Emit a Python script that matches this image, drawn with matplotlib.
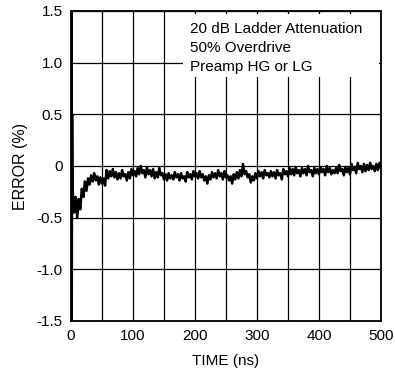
import matplotlib
matplotlib.use("Agg")
import matplotlib.pyplot as plt
from matplotlib.patches import Rectangle

plt.rcParams['font.family'] = ['Liberation Sans', 'DejaVu Sans']

# settling trace (ns, %)
time_ns = [0, 0.6, 1.2, 1.8,
           2.5, 5, 7.5, 10, 12.5, 15, 17.5, 20, 22.5, 25,
           27.5, 30, 32.5, 35, 37.5, 40, 42.5, 45, 47.5, 50,
           52.5, 55, 57.5, 60, 62.5, 65, 67.5, 70, 72.5, 75,
           77.5, 80, 82.5, 85, 87.5, 90, 92.5, 95, 97.5, 100,
           102.5, 105, 107.5, 110, 112.5, 115, 117.5, 120, 122.5, 125,
           127.5, 130, 132.5, 135, 137.5, 140, 142.5, 145, 147.5, 150,
           152.5, 155, 157.5, 160, 162.5, 165, 167.5, 170, 172.5, 175,
           177.5, 180, 182.5, 185, 187.5, 190, 192.5, 195, 197.5, 200,
           202.5, 205, 207.5, 210, 212.5, 215, 217.5, 220, 222.5, 225,
           227.5, 230, 232.5, 235, 237.5, 240, 242.5, 245, 247.5, 250,
           252.5, 255, 257.5, 260, 262.5, 265, 267.5, 270, 272.5, 275,
           277.5, 280, 282.5, 285, 287.5, 290, 292.5, 295, 297.5, 300,
           302.5, 305, 307.5, 310, 312.5, 315, 317.5, 320, 322.5, 325,
           327.5, 330, 332.5, 335, 337.5, 340, 342.5, 345, 347.5, 350,
           352.5, 355, 357.5, 360, 362.5, 365, 367.5, 370, 372.5, 375,
           377.5, 380, 382.5, 385, 387.5, 390, 392.5, 395, 397.5, 400,
           402.5, 405, 407.5, 410, 412.5, 415, 417.5, 420, 422.5, 425,
           427.5, 430, 432.5, 435, 437.5, 440, 442.5, 445, 447.5, 450,
           452.5, 455, 457.5, 460, 462.5, 465, 467.5, 470, 472.5, 475,
           477.5, 480, 482.5, 485, 487.5, 490, 492.5, 495, 497.5, 500]

error_pct = [-0.3, 1.6, -1.6, 0.5,
             -0.22, -0.45, -0.3, -0.5, -0.32, -0.42, -0.22, -0.3, -0.15, -0.24,
             -0.12, -0.18, -0.09, -0.15, -0.07, -0.14, -0.1, -0.18, -0.11, -0.17,
             -0.12, -0.19, -0.04, -0.12, -0.05, -0.1, -0.03, -0.11, -0.06, -0.13,
             -0.07, -0.12, -0.04, -0.1, -0.08, -0.14, -0.06, -0.12, -0.03, -0.09,
             -0.05, -0.1, -0.02, -0.08, 0.0, -0.07, -0.04, -0.11, -0.01, -0.08,
             -0.04, -0.1, -0.03, -0.12, -0.06, -0.11, -0.02, -0.09, -0.07, -0.13,
             -0.08, -0.14, -0.07, -0.12, -0.09, -0.13, -0.06, -0.11, -0.08, -0.14,
             -0.07, -0.12, -0.1, -0.15, -0.06, -0.11, -0.08, -0.13, -0.05, -0.1,
             -0.07, -0.12, -0.05, -0.11, -0.08, -0.14, -0.1, -0.17, -0.09, -0.13,
             -0.06, -0.11, -0.07, -0.12, -0.04, -0.1, -0.07, -0.13, -0.05, -0.11,
             -0.09, -0.14, -0.1, -0.17, -0.08, -0.13, -0.06, -0.12, -0.04, -0.1,
             0.02, -0.08, -0.05, -0.11, -0.08, -0.16, -0.1, -0.14, -0.07, -0.12,
             -0.05, -0.1, -0.06, -0.12, -0.04, -0.09, -0.07, -0.11, -0.05, -0.1,
             -0.06, -0.12, -0.04, -0.09, -0.07, -0.13, -0.03, -0.08, -0.05, -0.1,
             -0.02, -0.08, -0.03, -0.09, -0.01, -0.07, -0.04, -0.1, -0.02, -0.07,
             -0.03, -0.09, 0.0, -0.06, -0.04, -0.1, -0.02, -0.07, -0.03, -0.08,
             -0.01, -0.06, -0.03, -0.09, 0.0, -0.06, -0.02, -0.08, -0.04, -0.07,
             -0.02, -0.07, 0.01, -0.05, -0.03, -0.09, -0.01, -0.06, -0.02, -0.08,
             0.02, -0.04, -0.01, -0.07, 0.03, -0.03, 0.0, -0.06, 0.02, -0.05,
             0.01, -0.04, 0.03, -0.03, 0.0, -0.05, 0.02, -0.04, 0.03, -0.02]

x_ticks = [0, 50, 100, 150, 200, 250, 300, 350, 400, 450, 500]
x_labels = ['0', '', '100', '', '200', '', '300', '', '400', '', '500']
y_ticks = [-1.5, -1.0, -0.5, 0, 0.5, 1.0, 1.5]
y_labels = ['-1.5', '-1.0', '-0.5', '0', '0.5', '1.0', '1.5']
note_lines = ['20 dB Ladder Attenuation', '50% Overdrive', 'Preamp HG or LG']

fig = plt.figure(figsize=(3.95, 3.76), dpi=100)
ax = fig.add_axes([0.1797, 0.1463, 0.7848, 0.8245])

ax.plot(time_ns, error_pct, color='black', lw=1.8, zorder=3)

ax.set_xlim(0, 500)
ax.set_ylim(-1.5, 1.5)
ax.set_xticks(x_ticks)
ax.set_xticklabels(x_labels)
ax.set_yticks(y_ticks)
ax.set_yticklabels(y_labels)
ax.tick_params(length=0, labelsize=11, pad=6)
ax.grid(True, color='black', lw=0.9)
for sp in ax.spines.values():
    sp.set_linewidth(1.3)

ax.set_xlabel('TIME (ns)', fontsize=11)
ax.set_ylabel('ERROR (%)', fontsize=11.5)
ax.xaxis.set_label_coords(0.5, -0.105)
ax.yaxis.set_label_coords(-0.14, 0.5)

# white note box covering the grid
ax.add_patch(Rectangle((0.361, 0.787), 0.633, 0.203, transform=ax.transAxes,
                       facecolor='white', edgecolor='none', zorder=4))
for yy, line in zip([0.929, 0.868, 0.806], note_lines):
    ax.text(0.3855, yy, line, transform=ax.transAxes, fontsize=11,
            va='baseline', ha='left', zorder=5)

fig.savefig('out.png', dpi=100)
